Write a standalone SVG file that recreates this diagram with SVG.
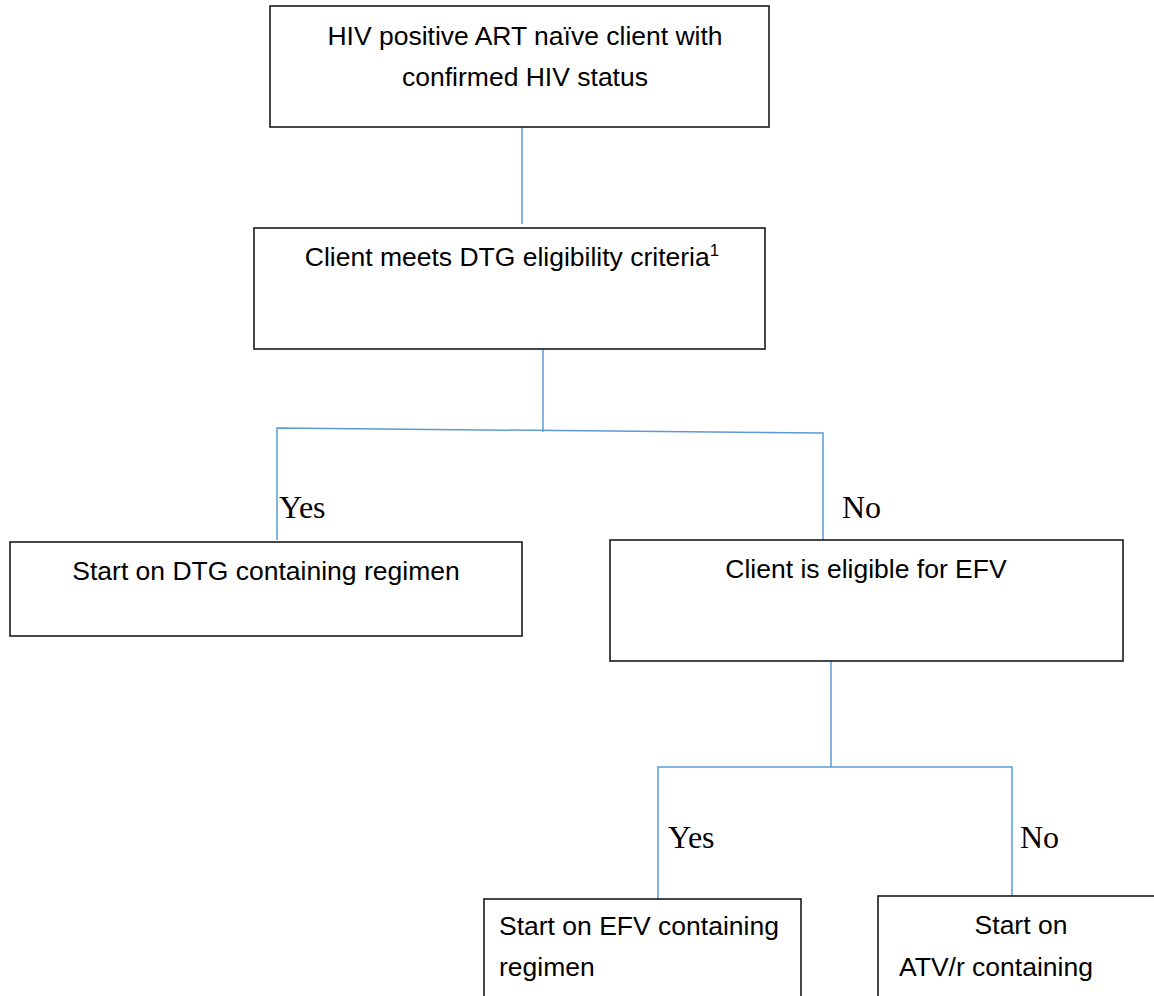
<svg xmlns="http://www.w3.org/2000/svg" width="1154" height="996" viewBox="0 0 1154 996">
<style>
.box{fill:#fff;stroke:#1a1a1a;stroke-width:1.6}
.t{font-family:"Liberation Sans",Arial,sans-serif;font-size:26.5px;fill:#000}
.c{text-anchor:middle}
.lbl{font-family:"Liberation Serif","Times New Roman",serif;font-size:32px;fill:#000}
.conn{fill:none;stroke:#5b9bd5;stroke-width:1.5}
</style>
<rect width="1154" height="996" fill="#fff"/>
<g id="connectors">
<path class="conn" d="M522,127 L522,224"/>
<path class="conn" d="M543,349 L543,432"/>
<path class="conn" d="M277,540 L277,428 L823,433 L823,540"/>
<path class="conn" d="M831,661 L831,767"/>
<path class="conn" d="M658,899 L658,767 L1012,767 L1012,896"/>
</g>
<g id="node-start">
<rect class="box" x="270" y="6" width="499" height="121"/>
<text class="t c" x="525" y="45">HIV positive ART naïve client with</text>
<text class="t c" x="525" y="86">confirmed HIV status</text>
</g>
<g id="node-dtg-criteria">
<rect class="box" x="254" y="228" width="511" height="121"/>
<text class="t c" x="512" y="266">Client meets DTG eligibility criteria<tspan font-size="17" dy="-10">1</tspan></text>
</g>
<g id="label-yes-1"><text class="lbl" x="279" y="518">Yes</text></g>
<g id="label-no-1"><text class="lbl" x="842" y="518">No</text></g>
<g id="node-dtg-start">
<rect class="box" x="10" y="542" width="512" height="94"/>
<text class="t c" x="266" y="580">Start on DTG containing regimen</text>
</g>
<g id="node-efv-eligible">
<rect class="box" x="610" y="540" width="513" height="121"/>
<text class="t c" x="866" y="578">Client is eligible for EFV</text>
</g>
<g id="label-yes-2"><text class="lbl" x="668" y="848">Yes</text></g>
<g id="label-no-2"><text class="lbl" x="1020" y="848">No</text></g>
<g id="node-efv-start">
<rect class="box" x="484" y="899" width="317" height="140"/>
<text class="t" x="499" y="935">Start on EFV containing</text>
<text class="t" x="499" y="976">regimen</text>
</g>
<g id="node-atv-start">
<rect class="box" x="878" y="896" width="300" height="140"/>
<text class="t c" x="1021" y="934">Start on</text>
<text class="t" x="899" y="976">ATV/r containing</text>
</g>
</svg>
